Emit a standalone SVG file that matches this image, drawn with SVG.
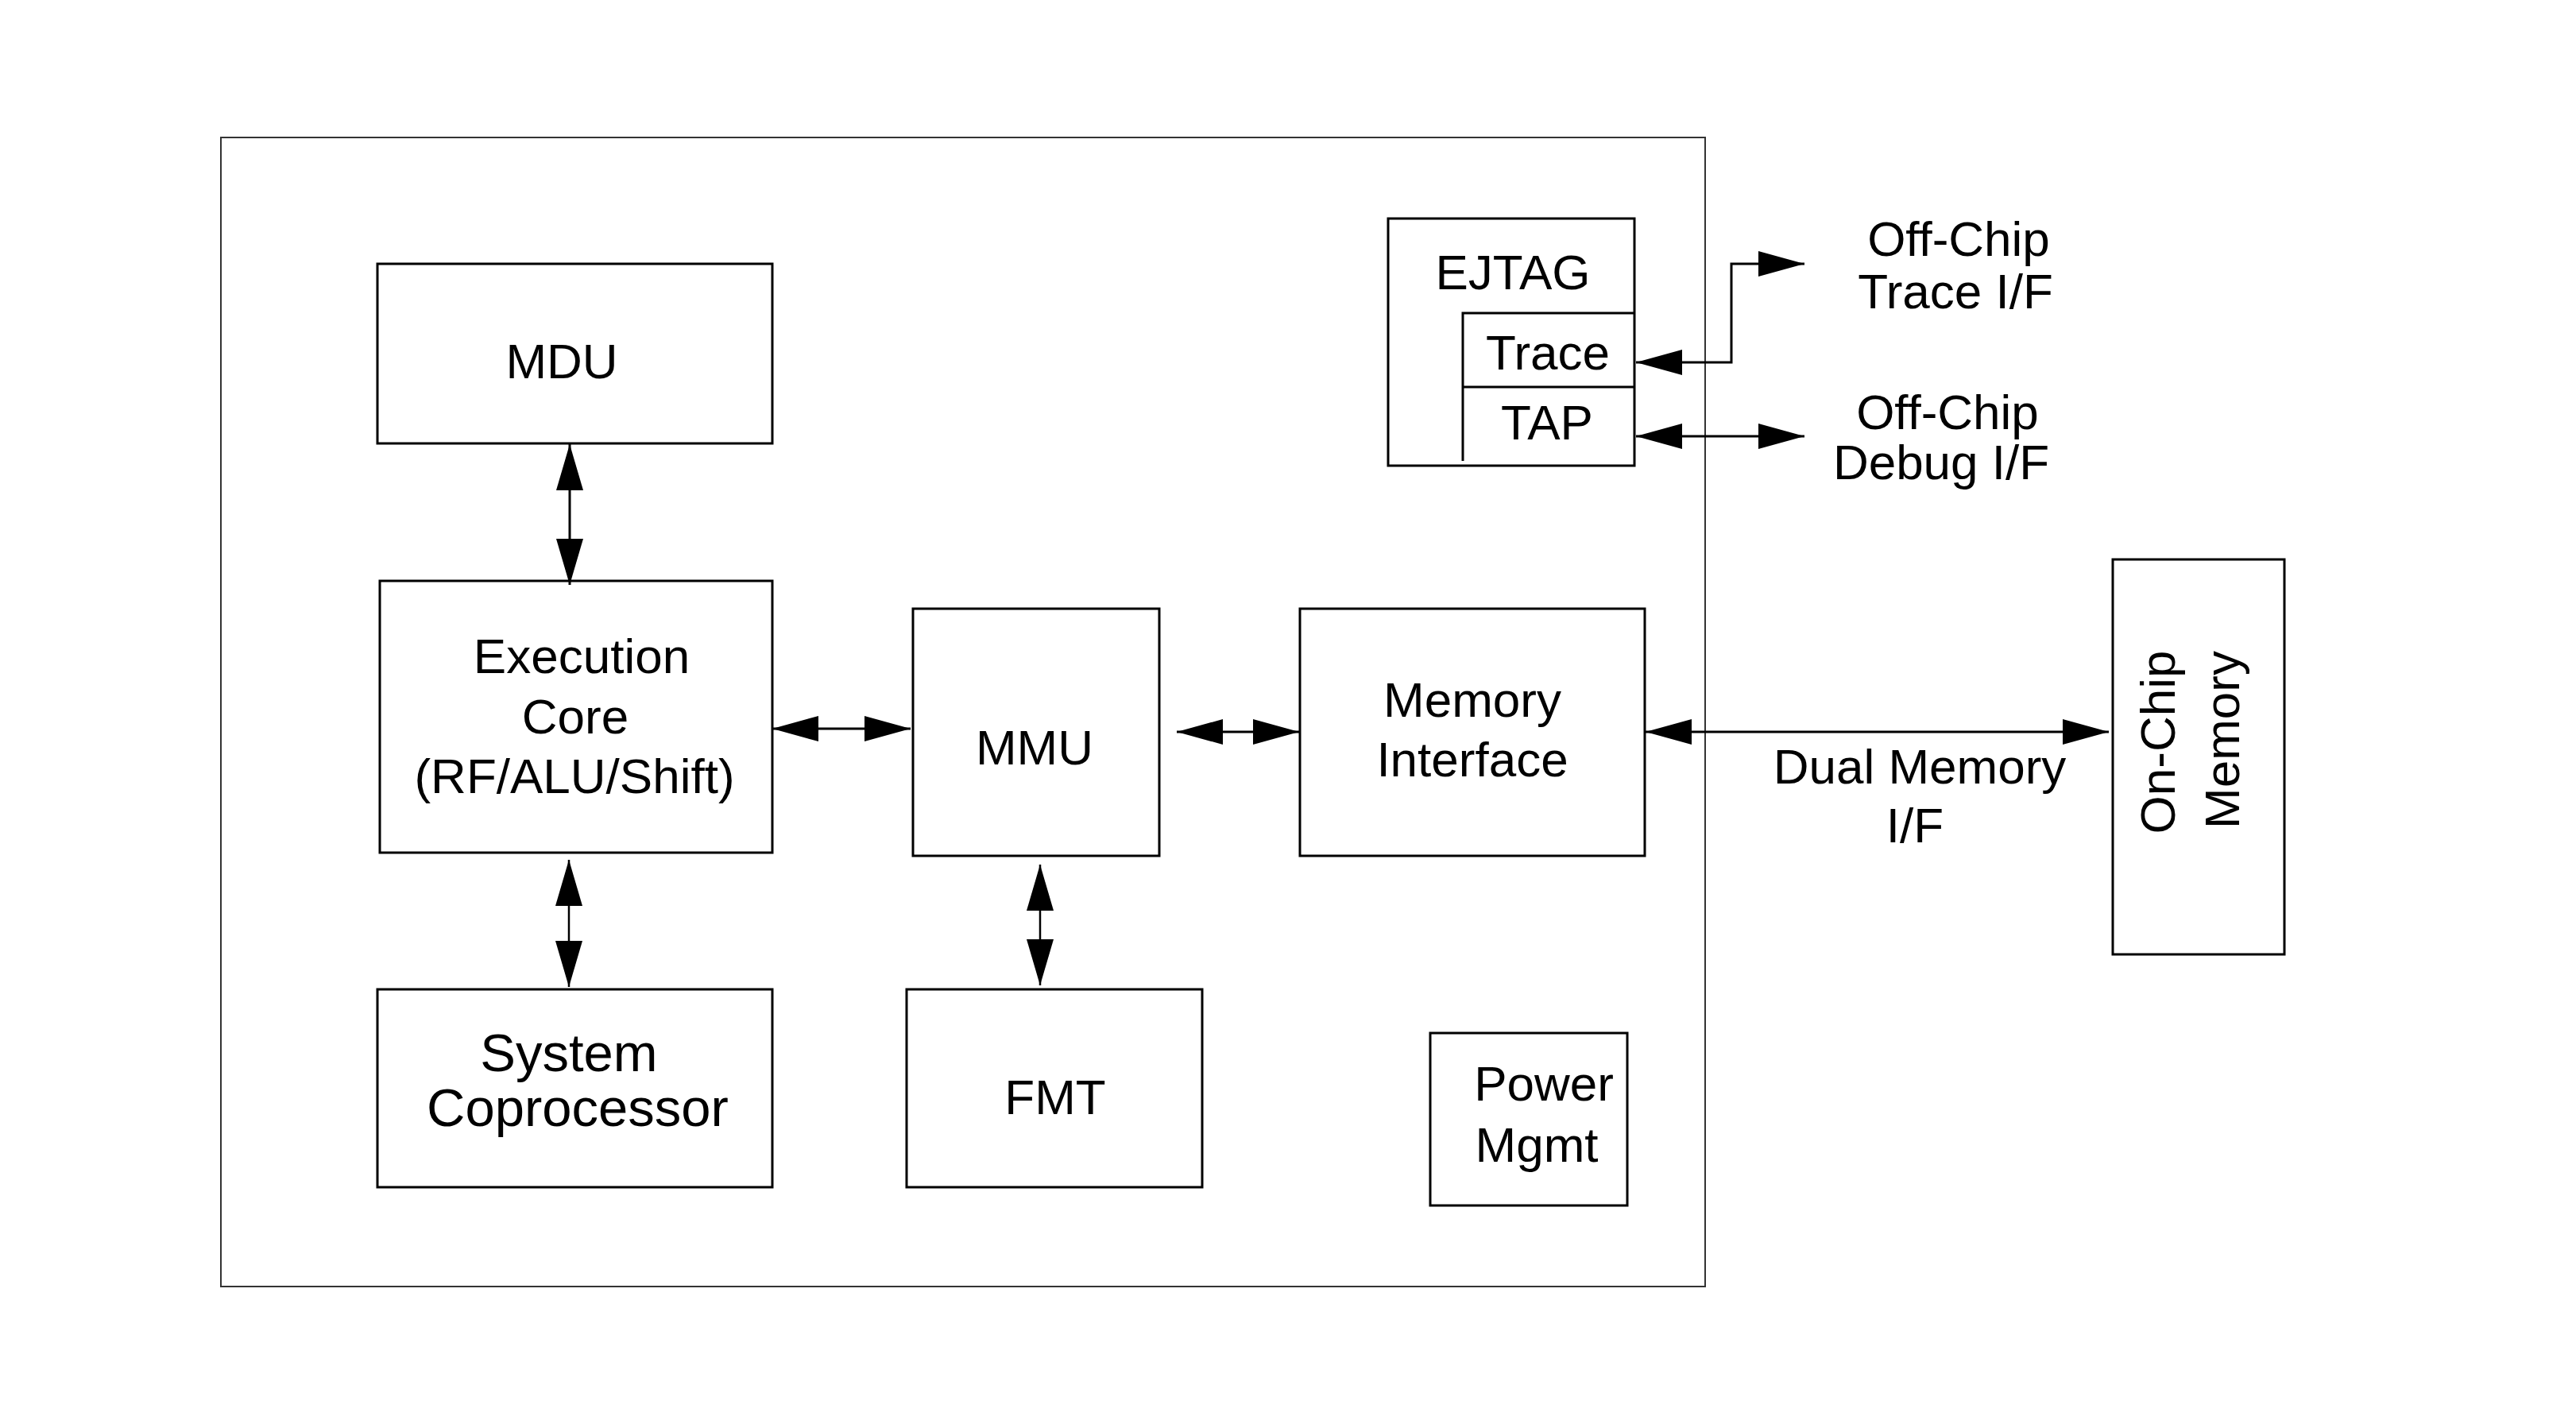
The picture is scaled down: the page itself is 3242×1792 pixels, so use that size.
<svg xmlns="http://www.w3.org/2000/svg" width="3242" height="1792" viewBox="0 0 3242 1792">
<style>
.box{fill:#fff;stroke:#000;stroke-width:3}
.frame{fill:none;stroke:#333;stroke-width:2}
.ln{fill:none;stroke:#000;stroke-width:3}
.thin{fill:none;stroke:#000;stroke-width:2.5}
text{font-family:"Liberation Sans",Arial,Helvetica,sans-serif;font-size:62px;fill:#000;text-anchor:middle}
.big{font-size:67px}
</style>
<defs>
<marker id="ah" markerUnits="userSpaceOnUse" markerWidth="58" markerHeight="32" refX="58" refY="16" orient="auto-start-reverse" viewBox="0 0 58 32">
<path d="M0,0 L58,16 L0,32 z" fill="#000"/>
</marker>
<marker id="ahv" markerUnits="userSpaceOnUse" markerWidth="58" markerHeight="34" refX="58" refY="17" orient="auto-start-reverse" viewBox="0 0 58 34">
<path d="M0,0 L58,17 L0,34 z" fill="#000"/>
</marker>
</defs>
<rect width="3242" height="1792" fill="#fff"/>
<rect id="chip" class="frame" x="278" y="173" width="1868" height="1446"/>
<g id="mdu"><rect class="box" x="475" y="332" width="497" height="226"/><text x="707" y="476">MDU</text></g>
<g id="exec"><rect class="box" x="478" y="731" width="494" height="342"/><text x="732" y="847">Execution</text><text x="724" y="923">Core</text><text x="723" y="998">(RF/ALU/Shift)</text></g>
<g id="mmu"><rect class="box" x="1149" y="766" width="310" height="311"/><text x="1302" y="962">MMU</text></g>
<g id="memif"><rect class="box" x="1636" y="766" width="434" height="311"/><text x="1853" y="902">Memory</text><text x="1853" y="977">Interface</text></g>
<g id="syscop"><rect class="box" x="475" y="1245" width="497" height="249"/><text class="big" x="716" y="1348">System</text><text class="big" x="727" y="1417">Coprocessor</text></g>
<g id="fmt"><rect class="box" x="1141" y="1245" width="372" height="249"/><text x="1328" y="1402">FMT</text></g>
<g id="power"><rect class="box" x="1800" y="1300" width="248" height="217"/><text x="1943" y="1385">Power</text><text x="1934" y="1462">Mgmt</text></g>
<g id="ejtag"><rect class="box" x="1747" y="275" width="310" height="311"/><path class="ln" d="M1841,580 V394 H2057 M1841,487 H2057"/><text x="1904" y="364">EJTAG</text><text x="1948" y="465">Trace</text><text x="1947" y="553">TAP</text></g>
<g id="onchip"><rect class="box" x="2659" y="704" width="216" height="497"/><text transform="translate(2737,934) rotate(-90)">On-Chip</text><text transform="translate(2818,931) rotate(-90)">Memory</text></g>
<g id="labels"><text x="2465" y="322">Off-Chip</text><text x="2461" y="388">Trace I/F</text><text x="2451" y="540">Off-Chip</text><text x="2443" y="603">Debug I/F</text><text x="2416" y="986">Dual Memory</text><text x="2410" y="1060">I/F</text></g>
<g id="connectors">
<line class="ln" x1="717" y1="559" x2="717" y2="736" marker-start="url(#ahv)" marker-end="url(#ahv)"/>
<line class="thin" x1="716" y1="1082" x2="716" y2="1242" marker-start="url(#ahv)" marker-end="url(#ahv)"/>
<line class="thin" x1="1309" y1="1088" x2="1309" y2="1240" marker-start="url(#ahv)" marker-end="url(#ahv)"/>
<line class="ln" x1="972" y1="917" x2="1146" y2="917" marker-start="url(#ah)" marker-end="url(#ah)"/>
<line class="ln" x1="1481" y1="921" x2="1635" y2="921" marker-start="url(#ah)" marker-end="url(#ah)"/>
<line class="ln" x1="2071" y1="921" x2="2654" y2="921" marker-start="url(#ah)" marker-end="url(#ah)"/>
<polyline class="ln" points="2059,456 2179,456 2179,332 2271,332" marker-start="url(#ah)" marker-end="url(#ah)"/>
<line class="ln" x1="2059" y1="549" x2="2271" y2="549" marker-start="url(#ah)" marker-end="url(#ah)"/>
</g>
</svg>
